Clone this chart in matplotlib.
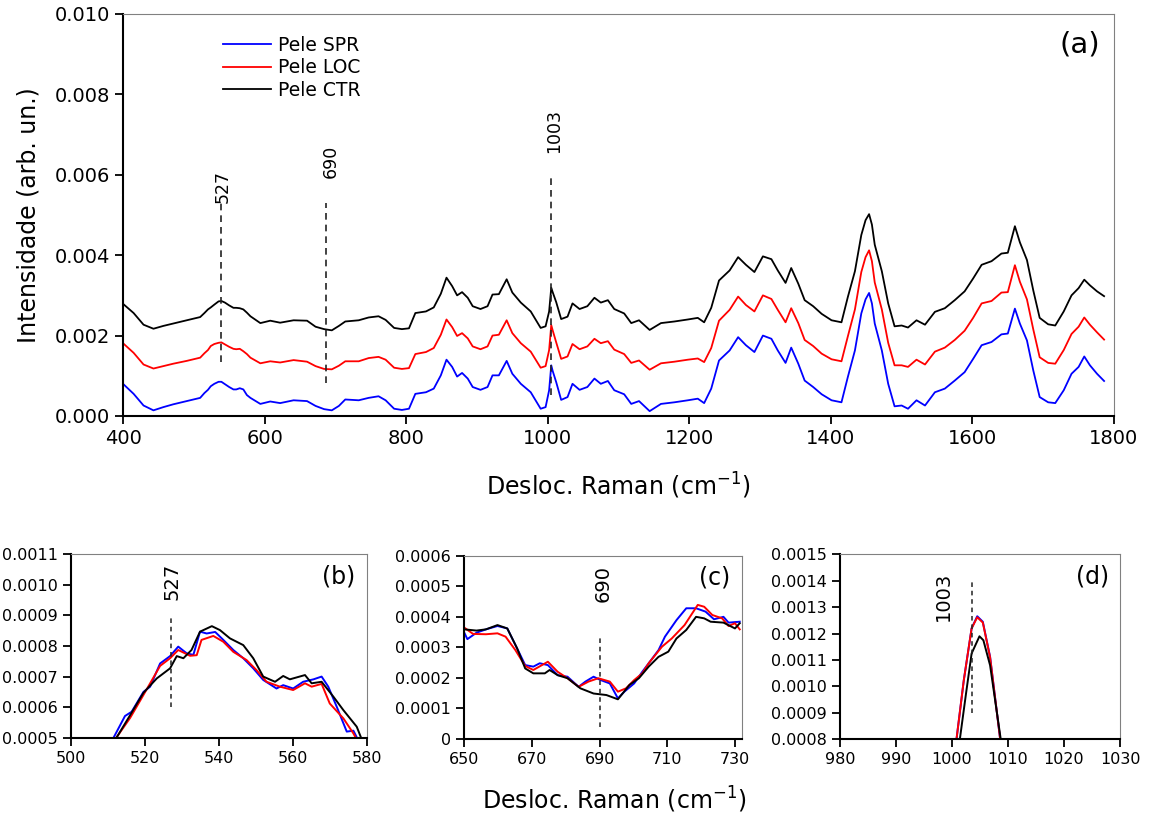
import matplotlib
matplotlib.use("Agg")
import matplotlib.pyplot as plt
from matplotlib.ticker import FormatStrFormatter, FuncFormatter

plt.rcParams['font.family'] = ['DejaVu Sans']

# ---- main spectra (raw values) ----
main_x = [400, 415, 429, 443, 457, 471, 490, 509, 515, 520, 524, 529, 535, 539, 544, 550, 556, 560,
          565, 570, 575, 580, 594, 608, 622, 641, 660, 672, 684, 695, 705, 714, 733, 747, 761, 771,
          783, 794, 804, 813, 828, 839, 849, 857, 865, 872, 879, 887, 894, 905, 915, 922, 931, 942,
          950, 962, 976, 990, 997, 1002, 1005, 1007, 1012, 1019, 1028, 1035, 1045, 1056, 1066, 1075,
          1085, 1094, 1108, 1118, 1129, 1144, 1160, 1179, 1198, 1212, 1221, 1231, 1242, 1257, 1269,
          1280, 1292, 1304, 1316, 1325, 1336, 1344, 1354, 1363, 1375, 1387, 1401, 1415, 1424, 1434,
          1443, 1449, 1454, 1458, 1462, 1472, 1481, 1490, 1500, 1509, 1521, 1533, 1547, 1561, 1575,
          1589, 1601, 1613, 1627, 1641, 1650, 1660, 1667, 1677, 1686, 1695, 1707, 1717, 1729, 1740,
          1750, 1758, 1766, 1776, 1786]

spr = [0.00080, 0.00055, 0.00026, 0.00014, 0.00022, 0.00029, 0.00037, 0.00045, 0.00057, 0.00065,
       0.00074, 0.00080, 0.00085, 0.00085, 0.00079, 0.00072, 0.00066, 0.00066, 0.00069, 0.00066,
       0.00052, 0.00045, 0.00030, 0.00036, 0.00032, 0.00039, 0.00037, 0.00025, 0.00017, 0.00014,
       0.00025, 0.00041, 0.00039, 0.00045, 0.00049, 0.00039, 0.00018, 0.00015, 0.00018, 0.00055,
       0.00059, 0.00068, 0.00101, 0.00140, 0.00122, 0.00098, 0.00107, 0.00093, 0.00072, 0.00065,
       0.00072, 0.00101, 0.00101, 0.00137, 0.00105, 0.00080, 0.00059, 0.00018, 0.00022, 0.00064,
       0.00126, 0.00112, 0.00084, 0.00040, 0.00047, 0.00080, 0.00065, 0.00072, 0.00093, 0.00080,
       0.00087, 0.00064, 0.00054, 0.00030, 0.00037, 0.00012, 0.00030, 0.00034, 0.00039, 0.00043,
       0.00032, 0.00068, 0.00138, 0.00163, 0.00196, 0.00176, 0.00159, 0.00200, 0.00192, 0.00163,
       0.00132, 0.00170, 0.00130, 0.00088, 0.00072, 0.00054, 0.00039, 0.00034, 0.00097, 0.00163,
       0.00255, 0.00290, 0.00306, 0.00280, 0.00230, 0.00163, 0.00080, 0.00024, 0.00026, 0.00018,
       0.00039, 0.00026, 0.00059, 0.00068, 0.00088, 0.00109, 0.00142, 0.00176, 0.00184, 0.00203,
       0.00205, 0.00267, 0.00230, 0.00188, 0.00113, 0.00047, 0.00034, 0.00032, 0.00064, 0.00105,
       0.00122, 0.00148, 0.00126, 0.00105, 0.00087]

loc = [0.00081, 0.00057, 0.00028, 0.00018, 0.00024, 0.00030, 0.00037, 0.00045, 0.00056, 0.00064,
       0.00074, 0.00079, 0.00082, 0.00083, 0.00078, 0.00072, 0.00067, 0.00066, 0.00067, 0.00061,
       0.00054, 0.00045, 0.00031, 0.00036, 0.00033, 0.00039, 0.00035, 0.00024, 0.00017, 0.00016,
       0.00025, 0.00036, 0.00036, 0.00044, 0.00047, 0.00040, 0.00020, 0.00017, 0.00019, 0.00054,
       0.00059, 0.00069, 0.00102, 0.00140, 0.00121, 0.00099, 0.00106, 0.00093, 0.00073, 0.00066,
       0.00073, 0.00100, 0.00102, 0.00138, 0.00106, 0.00081, 0.00060, 0.00020, 0.00024, 0.00064,
       0.00126, 0.00113, 0.00083, 0.00042, 0.00048, 0.00079, 0.00066, 0.00073, 0.00092, 0.00081,
       0.00086, 0.00065, 0.00054, 0.00032, 0.00038, 0.00015, 0.00031, 0.00035, 0.00040, 0.00043,
       0.00034, 0.00069, 0.00137, 0.00164, 0.00197, 0.00176, 0.00160, 0.00200, 0.00191, 0.00164,
       0.00133, 0.00168, 0.00131, 0.00089, 0.00074, 0.00055, 0.00041, 0.00036, 0.00098, 0.00165,
       0.00258, 0.00295, 0.00312, 0.00285, 0.00232, 0.00165, 0.00082, 0.00026, 0.00026, 0.00022,
       0.00040, 0.00028, 0.00060, 0.00070, 0.00089, 0.00112, 0.00144, 0.00180, 0.00186, 0.00207,
       0.00208, 0.00275, 0.00234, 0.00190, 0.00115, 0.00046, 0.00032, 0.00030, 0.00064, 0.00104,
       0.00122, 0.00145, 0.00127, 0.00108, 0.00090]

ctr = [0.00079, 0.00056, 0.00027, 0.00017, 0.00024, 0.00030, 0.00038, 0.00046, 0.00056, 0.00065,
       0.00070, 0.00077, 0.00085, 0.00086, 0.00082, 0.00075, 0.00069, 0.00069, 0.00068, 0.00065,
       0.00057, 0.00048, 0.00031, 0.00037, 0.00032, 0.00038, 0.00037, 0.00022, 0.00016, 0.00013,
       0.00024, 0.00035, 0.00038, 0.00045, 0.00048, 0.00039, 0.00019, 0.00016, 0.00018, 0.00056,
       0.00060, 0.00070, 0.00104, 0.00144, 0.00123, 0.00100, 0.00108, 0.00094, 0.00073, 0.00066,
       0.00073, 0.00102, 0.00103, 0.00140, 0.00107, 0.00082, 0.00060, 0.00019, 0.00023, 0.00060,
       0.00119, 0.00108, 0.00083, 0.00041, 0.00047, 0.00080, 0.00066, 0.00073, 0.00094, 0.00082,
       0.00088, 0.00066, 0.00055, 0.00031, 0.00038, 0.00014, 0.00031, 0.00035, 0.00040, 0.00044,
       0.00033, 0.00069, 0.00137, 0.00162, 0.00195, 0.00176, 0.00158, 0.00197, 0.00190, 0.00162,
       0.00131, 0.00168, 0.00129, 0.00088, 0.00073, 0.00054, 0.00038, 0.00033, 0.00096, 0.00160,
       0.00250, 0.00287, 0.00302, 0.00276, 0.00226, 0.00160, 0.00080, 0.00023, 0.00025, 0.00020,
       0.00038, 0.00027, 0.00059, 0.00068, 0.00088, 0.00110, 0.00142, 0.00176, 0.00185, 0.00204,
       0.00206, 0.00272, 0.00232, 0.00188, 0.00112, 0.00044, 0.00028, 0.00025, 0.00060, 0.00100,
       0.00118, 0.00139, 0.00125, 0.00110, 0.00098]

offsets = [0.0, 0.001, 0.002]  # vertical shift used for display in panel (a)

# ---- zoomed panels ----
b_x_spr = [509, 511.5, 514.6, 516.4, 519.6, 521.4, 524.1, 526.8, 529, 531.3, 533.1, 534.9, 536.7, 539,
           541.2, 543.9, 546.6, 549.3, 552, 555.6, 557.4, 560.1, 562.8, 565.6, 567.8, 569.6, 571.9,
           574.6, 576.4, 578.6, 580]
b_spr = [0.00045, 0.00050, 0.000571, 0.000585, 0.00065, 0.000667, 0.000743, 0.000767, 0.000798,
         0.000776, 0.000771, 0.000847, 0.000841, 0.000846, 0.00082, 0.000787, 0.00076, 0.000727,
         0.000689, 0.000661, 0.000672, 0.000661, 0.000683, 0.000691, 0.0007, 0.000667, 0.000601,
         0.00052, 0.000523, 0.00047, 0.00043]
b_x_loc = [509, 511.5, 516, 519.6, 524.1, 526.8, 529, 532.2, 534, 535.3, 538.5, 541.2, 543.9, 547.5,
           550.2, 552.9, 556.5, 560.1, 563.3, 565.1, 567.8, 570, 573.7, 576.4, 578.6, 580]
b_loc = [0.00045, 0.000487, 0.000565, 0.00064, 0.000735, 0.00076, 0.000787, 0.000768, 0.00077,
         0.00082, 0.000833, 0.000814, 0.000781, 0.000754, 0.000721, 0.000683, 0.000667, 0.000656,
         0.000678, 0.000667, 0.000676, 0.000612, 0.000563, 0.000514, 0.000465, 0.00043]
b_x_ctr = [509, 511.9, 516, 519.6, 523.2, 526.8, 528.6, 530.4, 532.6, 534.9, 538.1, 540.3, 543, 546.6,
           549.3, 552, 555.2, 557.4, 559.2, 563.3, 565.1, 567.8, 571, 573.7, 577.3, 579.1, 580.5]
b_ctr = [0.00045, 0.000492, 0.000574, 0.000647, 0.000694, 0.000727, 0.000767, 0.00076, 0.000787,
         0.000847, 0.000865, 0.000852, 0.000825, 0.000803, 0.00076, 0.0007, 0.000683, 0.000702,
         0.000691, 0.000705, 0.000678, 0.000683, 0.000634, 0.00059, 0.000536, 0.000481, 0.00044]

c_x_spr = [650, 650.9, 653.6, 656.4, 659.8, 662.7, 665.1, 668, 670.4, 672.3, 674.7, 677.6, 680.5, 683.8,
           685.8, 688.2, 690.3, 693, 695.4, 697.3, 700.2, 702.6, 704.5, 707.4, 709.3, 712.7, 715.6,
           718.5, 721.3, 723.8, 726.6, 728.1, 731.4]
c_spr = [0.000348, 0.000327, 0.000348, 0.000359, 0.00037, 0.000362, 0.000308, 0.000242, 0.000237,
         0.000248, 0.000242, 0.000209, 0.000204, 0.000171, 0.000188, 0.000204, 0.000193, 0.000182,
         0.000133, 0.000155, 0.000182, 0.00022, 0.000248, 0.000291, 0.000335, 0.000389, 0.000428,
         0.000428, 0.000417, 0.000392, 0.0004, 0.000381, 0.000384]
c_x_loc = [649.2, 652.6, 656.4, 659.8, 662.2, 665.1, 668, 670.4, 674.7, 677.6, 680.5, 683.8, 686.7,
           689.6, 693, 695.4, 697.8, 700.2, 702.6, 704.5, 708.4, 711.3, 715.1, 719, 720.9, 723.3,
           726.2, 728.1, 730, 731.4]
c_loc = [0.000371, 0.000344, 0.000343, 0.000346, 0.000335, 0.000291, 0.000239, 0.000226, 0.000253,
         0.00022, 0.000199, 0.000171, 0.000188, 0.000199, 0.000188, 0.000155, 0.000166, 0.000193,
         0.000215, 0.000248, 0.000302, 0.000329, 0.000373, 0.000439, 0.000433, 0.000406, 0.000395,
         0.00037, 0.000379, 0.000359]
c_x_ctr = [650, 653.6, 656.4, 659.8, 662.7, 665.6, 668, 670.4, 673.8, 675.2, 677.6, 680.5, 684.3,
           688.2, 692, 695.4, 698.8, 701.6, 704.5, 707.4, 710.3, 712.7, 715.6, 718.5, 720.9, 722.8,
           726.6, 730, 731.4]
c_ctr = [0.000359, 0.000355, 0.000359, 0.000373, 0.000362, 0.000297, 0.000231, 0.000215, 0.000215,
         0.000226, 0.000209, 0.000199, 0.000166, 0.000149, 0.000144, 0.00013, 0.000177, 0.000199,
         0.000237, 0.000269, 0.000286, 0.000329, 0.000357, 0.0004, 0.000395, 0.000384, 0.000381,
         0.000362, 0.000379]

d_x_spr = [1000.2, 1000.8, 1002.1, 1003.5, 1004.5, 1005.5, 1006.8, 1008.6, 1009.2]
d_spr = [0.00070, 0.00080, 0.001023, 0.00122, 0.001266, 0.001245, 0.001112, 0.00080, 0.00070]
d_x_loc = [1000.2, 1000.8, 1002.1, 1003.5, 1004.5, 1005.5, 1006.8, 1008.6, 1009.2]
d_loc = [0.00070, 0.00080, 0.001023, 0.00122, 0.001262, 0.001242, 0.001110, 0.00080, 0.00070]
d_x_ctr = [1000.8, 1001.4, 1002.5, 1003.5, 1004.9, 1005.6, 1006.8, 1008.7, 1009.3]
d_ctr = [0.00070, 0.00080, 0.000973, 0.001125, 0.00119, 0.001175, 0.00108, 0.00080, 0.00070]

names = ['Pele SPR', 'Pele LOC', 'Pele CTR']
colors = ['#0000ff', '#ff0000', '#000000']

fig = plt.figure(figsize=(11.55, 8.25), dpi=100)


def style_axes(ax, labsize):
    for s in ['top', 'right']:
        ax.spines[s].set_color('#808080')
    for s in ['left', 'bottom']:
        ax.spines[s].set_color('black')
        ax.spines[s].set_linewidth(1.5)
    ax.tick_params(direction='out', length=6, width=1.3, labelsize=labsize, top=False, right=False)


# panel (a)
ax = fig.add_axes([0.1065, 0.4958, 0.858, 0.4873])
for ys, off, c, n in zip([spr, loc, ctr], offsets, colors, names):
    ax.plot(main_x, [v + off for v in ys], color=c, lw=1.3, label=n)
ax.set_xlim(400, 1800)
ax.set_ylim(0, 0.010)
ax.set_xticks(range(400, 1801, 200))
ax.set_yticks([0, 0.002, 0.004, 0.006, 0.008, 0.010])
ax.yaxis.set_major_formatter(FormatStrFormatter('%.3f'))
style_axes(ax, 14)
ax.set_xlabel('Desloc. Raman (cm$^{-1}$)', fontsize=17, labelpad=16)
ax.set_ylabel('Intensidade (arb. un.)', fontsize=17, labelpad=10)
ax.legend(loc='upper left', bbox_to_anchor=(0.093, 0.965), frameon=False, fontsize=13.5,
          handlelength=2.6, handletextpad=0.35, labelspacing=0.2, borderaxespad=0)
ax.text(0.986, 0.925, '(a)', transform=ax.transAxes, ha='right', va='center', fontsize=21)

ax.plot([538, 538], [0.00133, 0.00529], color='#222222', lw=1.2, ls=(0, (4, 3)))
ax.plot([687, 687], [0.00081, 0.00529], color='#222222', lw=1.2, ls=(0, (4, 3)))
ax.plot([1004, 1004], [0.00051, 0.00598], color='#222222', lw=1.2, ls=(0, (4, 3)))
ax.text(541, 0.00571, '527', rotation=90, ha='center', va='center', fontsize=12.5)
ax.text(694, 0.00634, '690', rotation=90, ha='center', va='center', fontsize=12.5)
ax.text(1009, 0.00708, '1003', rotation=90, ha='center', va='center', fontsize=12.5)


def small_panel(rect, xs, ys, xlim, ylim, xticks, yticks, fmt, tag, peak, dash, lab_xy, lab):
    a = fig.add_axes(rect)
    for x, y, c in zip(xs, ys, colors):
        a.plot(x, y, color=c, lw=1.4)
    a.set_xlim(*xlim)
    a.set_ylim(*ylim)
    a.set_xticks(xticks)
    a.set_yticks(yticks)
    a.yaxis.set_major_formatter(fmt)
    style_axes(a, 11.5)
    a.text(0.96, 0.88, tag, transform=a.transAxes, ha='right', va='center', fontsize=17)
    a.plot([peak, peak], dash, color='#222222', lw=1.1, ls=(0, (3, 2.5)))
    a.text(lab_xy[0], lab_xy[1], lab, rotation=90, ha='center', va='center', fontsize=14)
    return a


small_panel([0.0615, 0.1058, 0.256, 0.2223], [b_x_spr, b_x_loc, b_x_ctr], [b_spr, b_loc, b_ctr],
            (500, 580), (0.0005, 0.0011), range(500, 581, 20),
            [0.0005 + 0.0001 * i for i in range(7)], FormatStrFormatter('%.4f'),
            '(b)', 527, [0.0006, 0.0009], (527.3, 0.00101), '527')
small_panel([0.402, 0.1042, 0.2402, 0.2222], [c_x_spr, c_x_loc, c_x_ctr], [c_spr, c_loc, c_ctr],
            (650, 732), (0, 0.0006), range(650, 731, 20),
            [0.0001 * i for i in range(7)],
            FuncFormatter(lambda v, p: '0' if abs(v) < 1e-9 else '%.4f' % v),
            '(c)', 690, [0.00004, 0.00033], (691, 0.00051), '690')
small_panel([0.7273, 0.104, 0.2424, 0.2239], [d_x_spr, d_x_loc, d_x_ctr], [d_spr, d_loc, d_ctr],
            (980, 1030), (0.0008, 0.0015), range(980, 1031, 10),
            [0.0008 + 0.0001 * i for i in range(8)], FormatStrFormatter('%.4f'),
            '(d)', 1003.5, [0.0009, 0.0014], (998.4, 0.00134), '1003')

fig.text(0.532, 0.03, 'Desloc. Raman (cm$^{-1}$)', ha='center', va='center', fontsize=17)

fig.savefig('out.png', dpi=100)
